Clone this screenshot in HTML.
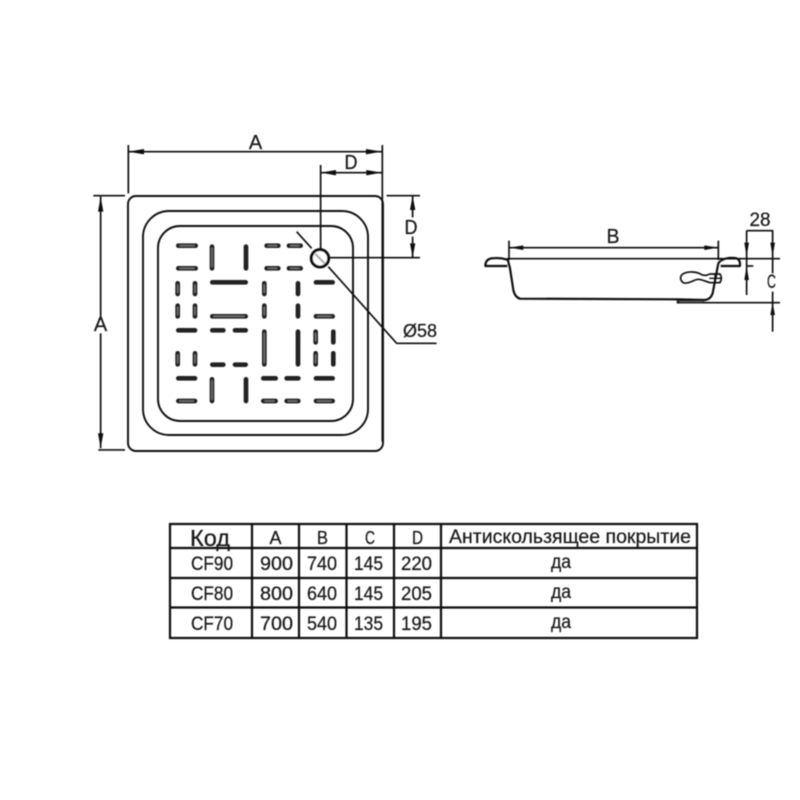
<!DOCTYPE html>
<html>
<head>
<meta charset="utf-8">
<style>
html,body{margin:0;padding:0;background:#fff;}
svg{display:block;}
text{font-family:"Liberation Sans","DejaVu Sans",sans-serif;fill:#1a1a1a;stroke:#1a1a1a;stroke-width:.25px;}
</style>
</head>
<body>
<svg width="800" height="800" viewBox="0 0 800 800" xmlns="http://www.w3.org/2000/svg">
<defs>
<filter id="b" x="-5%" y="-5%" width="110%" height="110%"><feGaussianBlur stdDeviation="0.45"/></filter>
</defs>
<rect width="800" height="800" fill="#fff"/>
<g filter="url(#b)">

<!-- Plan view -->
<g fill="none" stroke="#111" stroke-width="1.9">
<rect x="128" y="196" width="255" height="255" rx="8"/>
<rect x="143" y="211" width="225" height="224" rx="26"/>
<rect x="158" y="226" width="195" height="195" rx="22"/>
</g>

<!-- Slots -->
<g transform="translate(150 225) scale(.3333)" fill="none" stroke-linecap="round">
<path stroke="#222" stroke-width="14" d="M85 62H137M350 62H385M417 62H452M85 130H137M350 130H385M417 130H452M187 172H287M498 172H548M187 274H287M498 274H548M85 316H135M187 316H220M255 316H287M187 419H220M255 419H287M85 460H135M340 460H377M410 460H445M498 460H548M85 528H135M340 528H377M410 528H445M498 528H548M186 65V130M288 65V130M83 175V207M135 175V207M343 175V207M444 175V207M83 242V274M135 242V274M343 242V274M444 242V274M343 320V418M444 320V418M497 320V352M550 320V352M497 385V418M550 385V418M83 385V418M135 385V418M186 463V528M288 463V528"/>
<path stroke="#6e6e6e" stroke-width="5" d="M90 62H132M355 62H380M422 62H447M90 130H132M355 130H380M422 130H447M192 274H282M90 528H130M345 528H372M415 528H440M503 274H543M503 528H543M186 70V125M83 180V202M135 180V202M343 180V202M83 247V269M135 247V269M343 247V269M343 325V413M497 325V347M497 390V413M83 390V413M135 390V413M186 468V523"/>
</g>

<!-- Plan dimensions -->
<g transform="translate(90 130) scale(.3333)" fill="none" stroke="#111">
<g stroke-width="5">
<path d="M115 45V190M877 45V197M877 197V935"/>
<path d="M115 65H875"/>
<path d="M692 128H875"/>
<path d="M692 105V360"/>
<path d="M720 383H990"/>
<path d="M890 197H990M10 197H105M25 960H105"/>
<path d="M968 197V262M968 320V383"/>
<path d="M32 200V570M32 610V955"/>
<path d="M620 305L665 355M715 410L920 640H1040"/>
</g>
<circle cx="690" cy="385" r="26" stroke-width="9" fill="#fff"/>
<path d="M676 372L704 400" stroke="#aaa" stroke-width="6"/>
<g fill="#111" stroke="none">
<path d="M115 65L162 57V73Z"/>
<path d="M875 65L828 57V73Z"/>
<path d="M692 128L738 120V136Z"/>
<path d="M875 128L829 120V136Z"/>
<path d="M968 197L960 240H976Z"/>
<path d="M968 383L960 340H976Z"/>
<path d="M32 200L24 245H40Z"/>
<path d="M32 955L24 910H40Z"/>
</g>
</g>
<text x="255.500" y="149" font-size="20" text-anchor="middle">A</text>
<text x="351" y="169" font-size="20" text-anchor="middle" textLength="13" lengthAdjust="spacingAndGlyphs">D</text>
<text x="411" y="234" font-size="20" text-anchor="middle" textLength="13" lengthAdjust="spacingAndGlyphs">D</text>
<text x="100.500" y="331" font-size="20" text-anchor="middle">A</text>
<text x="403" y="337" font-size="18" textLength="34" lengthAdjust="spacingAndGlyphs">Ø58</text>

<!-- Side view -->
<g transform="translate(470 200) scale(.3333)" fill="none" stroke="#111" stroke-linejoin="round">
<g stroke-width="5">
<path d="M117 122V180M745 122V180"/>
<path d="M118 143H745"/>
<path d="M110 176H930"/>
<path d="M830 198H850"/>
<path d="M620 308H930"/>
<path d="M830 92V285M830 92H908V220M908 275V395"/>
</g>
<g stroke-width="6.500">
<path d="M113 178L120 205L130 270Q135 292 150 296L620 298L705 300Q722 298 728 280L745 190L752 182"/>
<path d="M112 179Q90 172 65 175Q46 178 46 198H112"/>
<path d="M752 182Q775 170 800 175Q812 180 810 198H752"/>
<path d="M695 224C680 214 655 214 642 220C627 227 630 243 642 249C660 252 672 238 685 238C695 238 705 244 720 248H750Q758 235 750 222H720C710 226 705 228 695 224Z" stroke-width="5"/>
<path d="M718 235H755M735 222V248" stroke-width="4"/>
</g>
<path d="M620 302H700V308H630Z" fill="#666" stroke="#222" stroke-width="3"/>
<g fill="#111" stroke="none">
<path d="M118 143L160 136V150Z"/>
<path d="M745 143L703 136V150Z"/>
<path d="M830 170L823 128H837Z"/>
<path d="M830 198L823 240H837Z"/>
<path d="M908 170L901 128H915Z"/>
<path d="M908 308L901 345H915Z"/>
</g>
</g>
<text x="613" y="243" font-size="20" text-anchor="middle" textLength="13" lengthAdjust="spacingAndGlyphs">B</text>
<text x="749.500" y="226" font-size="19" textLength="21" lengthAdjust="spacingAndGlyphs">28</text>
<text x="771.500" y="288" font-size="19" text-anchor="middle" textLength="9" lengthAdjust="spacingAndGlyphs">C</text>

<!-- Table -->
<g fill="none" stroke="#111" stroke-width="2.200">
<rect x="170" y="524" width="527" height="114"/>
<path d="M170 548H697M170 578H697M170 607.500H697"/>
<path d="M252 524V638M299 524V638M346.500 524V638M394 524V638M441 524V638"/>
</g>
<g font-size="19">
<text x="190" y="546" font-size="23" textLength="40" lengthAdjust="spacingAndGlyphs">Код</text>
<text x="275.500" y="544" text-anchor="middle" font-size="18">A</text>
<text x="322.500" y="544" text-anchor="middle" font-size="18" textLength="11" lengthAdjust="spacingAndGlyphs">B</text>
<text x="370" y="544" text-anchor="middle" font-size="18" textLength="10" lengthAdjust="spacingAndGlyphs">C</text>
<text x="417.500" y="544" text-anchor="middle" font-size="18" textLength="11" lengthAdjust="spacingAndGlyphs">D</text>
<text x="449" y="543" font-size="19" textLength="242" lengthAdjust="spacingAndGlyphs">Антискользящее покрытие</text>

<text x="191" y="570" textLength="42" lengthAdjust="spacingAndGlyphs">CF90</text>
<text x="260" y="570" textLength="33" lengthAdjust="spacingAndGlyphs">900</text>
<text x="307" y="570" textLength="30" lengthAdjust="spacingAndGlyphs">740</text>
<text x="354" y="570" textLength="29" lengthAdjust="spacingAndGlyphs">145</text>
<text x="401" y="570" textLength="31" lengthAdjust="spacingAndGlyphs">220</text>
<text x="551" y="568" textLength="20" lengthAdjust="spacingAndGlyphs">да</text>

<text x="191" y="600" textLength="42" lengthAdjust="spacingAndGlyphs">CF80</text>
<text x="260" y="600" textLength="33" lengthAdjust="spacingAndGlyphs">800</text>
<text x="307" y="600" textLength="30" lengthAdjust="spacingAndGlyphs">640</text>
<text x="354" y="600" textLength="29" lengthAdjust="spacingAndGlyphs">145</text>
<text x="401" y="600" textLength="31" lengthAdjust="spacingAndGlyphs">205</text>
<text x="551" y="598" textLength="20" lengthAdjust="spacingAndGlyphs">да</text>

<text x="191" y="630" textLength="42" lengthAdjust="spacingAndGlyphs">CF70</text>
<text x="260" y="630" textLength="33" lengthAdjust="spacingAndGlyphs">700</text>
<text x="307" y="630" textLength="30" lengthAdjust="spacingAndGlyphs">540</text>
<text x="354" y="630" textLength="29" lengthAdjust="spacingAndGlyphs">135</text>
<text x="401" y="630" textLength="31" lengthAdjust="spacingAndGlyphs">195</text>
<text x="551" y="628" textLength="20" lengthAdjust="spacingAndGlyphs">да</text>
</g>
</g>
</svg>
</body>
</html>
